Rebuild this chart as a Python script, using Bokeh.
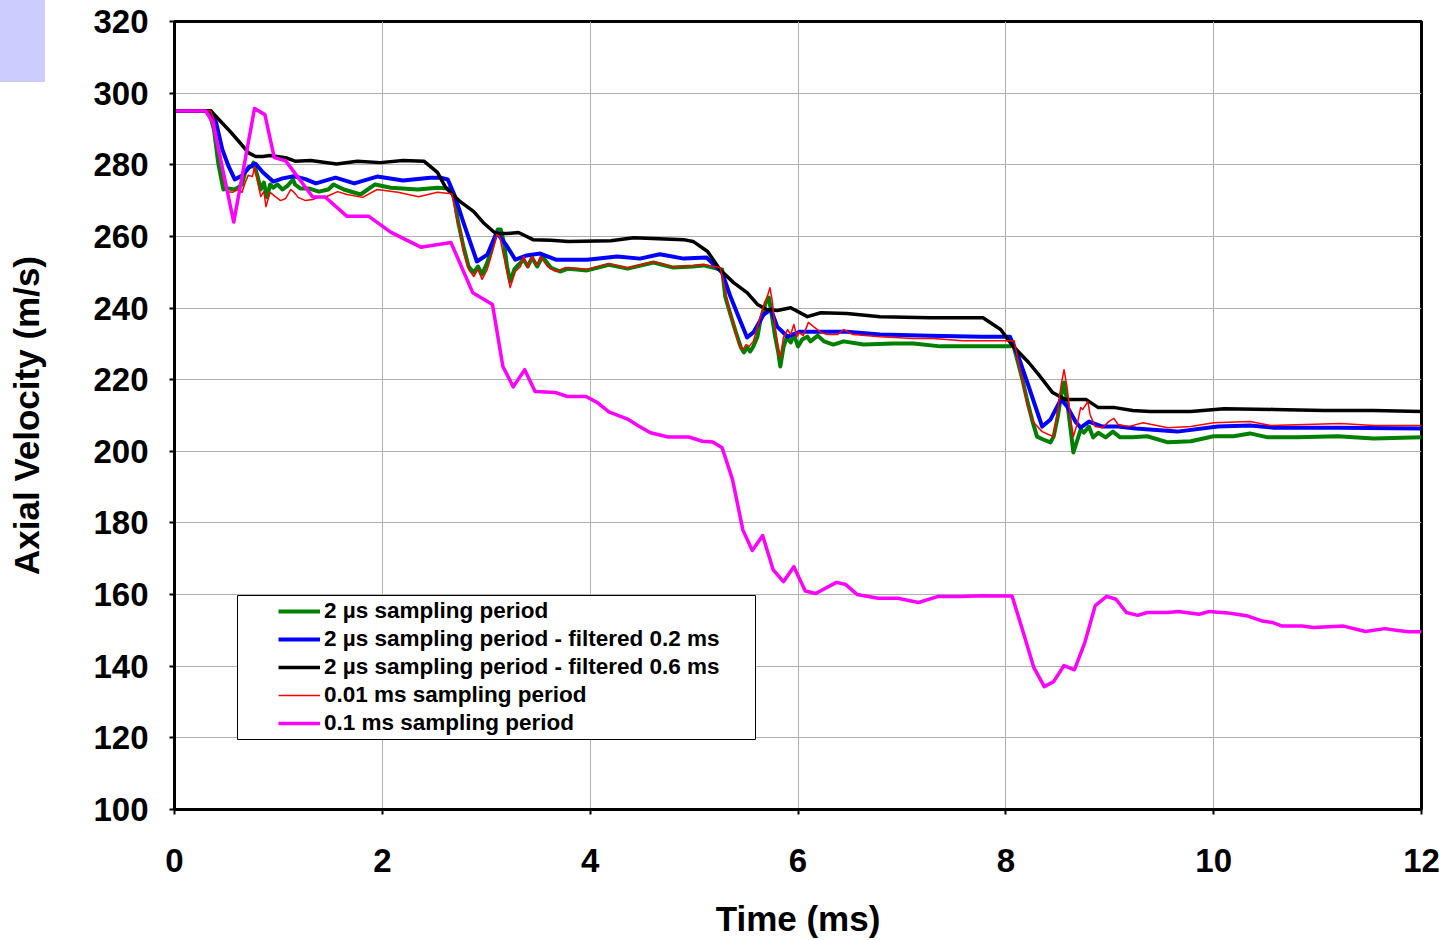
from bokeh.plotting import figure
from bokeh.models import (Range1d, FixedTicker, Legend, LegendItem, BoxAnnotation,
                          ColumnDataSource, InlineStyleSheet)
from bokeh.embed import file_html
from bokeh.resources import INLINE

# ---------------- data ----------------
x_ticks = [0, 2, 4, 6, 8, 10, 12]
y_ticks = [100, 120, 140, 160, 180, 200, 220, 240, 260, 280, 300, 320]

series_labels = [
    "2 \u00b5s sampling period",
    "2 \u00b5s sampling period - filtered 0.2 ms",
    "2 \u00b5s sampling period - filtered 0.6 ms",
    "0.01 ms sampling period",
    "0.1 ms sampling period",
]

# 2 us sampling period (green)
green_pts = [
    (0, 295), (0.33, 295), (0.38, 289.8), (0.42, 280.6), (0.47, 273.1), (0.52, 273.4),
    (0.57, 273.1), (0.61, 273.6), (0.65, 274.5), (0.68, 277.9), (0.71, 279.3), (0.75, 279.6),
    (0.76, 280.6), (0.80, 276.7), (0.83, 273.1), (0.86, 275.0), (0.89, 270.9), (0.92, 274.5),
    (0.95, 273.6), (0.99, 274.5), (1.04, 273.1), (1.09, 274.2), (1.14, 275.9), (1.16, 274.5),
    (1.21, 273.4), (1.29, 273.4), (1.39, 272.5), (1.48, 273.1), (1.53, 274.5), (1.63, 273.1),
    (1.79, 271.7), (1.93, 274.5), (2.08, 273.6), (2.34, 273.1), (2.53, 273.6), (2.64, 273.4),
    (2.67, 272.5), (2.70, 269.5), (2.73, 263.9), (2.78, 257.2), (2.83, 251.6), (2.88, 249.9),
    (2.92, 251.6), (2.96, 249.4), (3.01, 252.7), (3.06, 257.2), (3.11, 261.9), (3.14, 261.9),
    (3.17, 258.3), (3.20, 251.6), (3.23, 247.4), (3.27, 250.8), (3.31, 252.1), (3.36, 253.5),
    (3.40, 251.6), (3.44, 254.1), (3.49, 251.6), (3.54, 254.4), (3.62, 251.3), (3.71, 250.2),
    (3.79, 251.0), (3.97, 250.5), (4.18, 252.1), (4.36, 251.0), (4.61, 252.7), (4.80, 251.3),
    (4.99, 251.6), (5.09, 251.9), (5.22, 251.0), (5.27, 250.8), (5.30, 243.2), (5.35, 238.2),
    (5.40, 233.4), (5.45, 229.0), (5.48, 227.6), (5.51, 229.0), (5.54, 227.9), (5.57, 229.3),
    (5.61, 232.0), (5.64, 236.8), (5.69, 241.5), (5.72, 242.9), (5.75, 237.6), (5.78, 232.0),
    (5.81, 227.6), (5.83, 223.7), (5.86, 229.0), (5.89, 231.8), (5.93, 230.4), (5.96, 232.6),
    (6.00, 229.3), (6.04, 231.2), (6.09, 232.0), (6.12, 230.7), (6.19, 232.3), (6.25, 230.7),
    (6.34, 229.8), (6.44, 230.7), (6.63, 229.8), (6.92, 230.1), (7.11, 230.1), (7.37, 229.3),
    (7.76, 229.3), (8.04, 229.3), (8.07, 229.8), (8.11, 225.6), (8.16, 220.0), (8.21, 213.6),
    (8.26, 208.0), (8.30, 204.1), (8.36, 203.3), (8.43, 202.5), (8.46, 204.1), (8.50, 209.7),
    (8.53, 215.3), (8.56, 219.2), (8.59, 213.9), (8.62, 206.9), (8.65, 199.7), (8.69, 203.3),
    (8.72, 206.1), (8.75, 205.2), (8.80, 206.9), (8.84, 203.9), (8.89, 205.2), (8.96, 203.9),
    (9.03, 205.5), (9.10, 203.9), (9.22, 203.9), (9.36, 204.2), (9.56, 202.5), (9.78, 202.8),
    (10.00, 204.2), (10.19, 204.2), (10.35, 205.0), (10.52, 203.9), (10.81, 203.9),
    (11.19, 204.2), (11.54, 203.6), (12.0, 203.9),
]

# 2 us sampling period - filtered 0.2 ms (blue)
blue_pts = [
    (0, 295), (0.35, 295), (0.40, 291.8), (0.46, 284.3), (0.52, 279.6), (0.58, 275.9),
    (0.65, 277.0), (0.73, 279.6), (0.78, 280.3), (0.85, 277.9), (0.95, 275.3), (1.04, 276.2),
    (1.15, 276.8), (1.26, 276.0), (1.36, 274.8), (1.55, 276.4), (1.73, 274.8), (1.95, 276.7),
    (2.20, 275.6), (2.46, 276.4), (2.56, 276.4), (2.63, 275.9), (2.70, 271.1), (2.78, 263.9),
    (2.91, 253.0), (3.01, 254.9), (3.10, 261.1), (3.19, 257.7), (3.28, 253.5), (3.39, 254.7),
    (3.52, 255.2), (3.67, 253.5), (3.97, 253.5), (4.26, 254.4), (4.48, 253.8), (4.67, 255.0),
    (4.90, 253.8), (5.12, 254.1), (5.22, 251.3), (5.27, 249.9), (5.35, 243.2), (5.43, 237.4),
    (5.51, 231.8), (5.57, 233.2), (5.67, 238.2), (5.74, 239.6), (5.80, 234.8), (5.90, 232.0),
    (6.02, 233.4), (6.22, 233.4), (6.47, 233.4), (6.79, 232.6), (7.27, 232.3), (7.76, 232.0),
    (8.04, 232.0), (8.12, 226.5), (8.22, 218.1), (8.35, 206.9), (8.43, 208.9), (8.53, 214.5),
    (8.59, 212.5), (8.67, 208.3), (8.72, 206.6), (8.80, 208.3), (8.93, 206.9), (9.08, 206.9),
    (9.25, 206.4), (9.65, 205.5), (10.04, 206.9), (10.35, 207.2), (10.58, 206.6),
    (11.22, 206.6), (12.0, 206.4),
]

# 2 us sampling period - filtered 0.6 ms (black)
black_pts = [
    (0, 295), (0.35, 295), (0.52, 289.8), (0.62, 286.5), (0.71, 283.4), (0.78, 282.3),
    (0.85, 282.3), (0.92, 282.6), (1.07, 282.0), (1.16, 281.0), (1.31, 281.2), (1.56, 280.2),
    (1.76, 281.0), (1.98, 280.6), (2.20, 281.2), (2.40, 281.0), (2.53, 277.9), (2.61, 273.6),
    (2.75, 269.7), (2.88, 266.9), (2.97, 263.9), (3.09, 260.8), (3.20, 260.8), (3.31, 261.1),
    (3.45, 259.1), (3.62, 258.9), (3.79, 258.6), (4.20, 258.8), (4.42, 259.6), (4.90, 259.1),
    (4.99, 258.6), (5.13, 255.8), (5.25, 250.7), (5.38, 247.1), (5.51, 244.3), (5.61, 241.0),
    (5.70, 239.6), (5.80, 239.3), (5.93, 240.1), (6.09, 237.6), (6.22, 238.7), (6.47, 238.5),
    (6.79, 237.6), (7.27, 237.3), (7.78, 237.3), (7.95, 234.0), (8.07, 229.3), (8.22, 224.8),
    (8.33, 220.9), (8.45, 216.4), (8.57, 214.5), (8.77, 214.5), (8.89, 212.2), (9.05, 212.2),
    (9.22, 211.4), (9.39, 211.1), (9.78, 211.1), (10.10, 211.9), (10.58, 211.7),
    (11.06, 211.4), (11.54, 211.4), (12.0, 211.1),
]

# 0.01 ms sampling period (red)
red_pts = [
    (0, 295), (0.35, 295), (0.38, 292.6), (0.41, 287.0), (0.44, 283.4), (0.47, 275.9),
    (0.51, 272.5), (0.56, 272.3), (0.61, 273.1), (0.65, 272.3), (0.68, 275.0), (0.71, 277.1),
    (0.75, 276.7), (0.77, 279.5), (0.80, 275.3), (0.83, 271.1), (0.86, 272.5), (0.88, 268.3),
    (0.92, 272.3), (0.97, 271.1), (1.02, 270.0), (1.07, 270.6), (1.12, 273.1), (1.15, 272.3),
    (1.19, 270.9), (1.26, 270.0), (1.33, 270.3), (1.39, 271.0), (1.47, 271.2), (1.57, 272.5),
    (1.66, 271.7), (1.81, 270.9), (1.95, 273.1), (2.15, 272.3), (2.35, 271.1), (2.53, 272.3),
    (2.67, 271.9), (2.71, 265.6), (2.75, 261.9), (2.78, 255.8), (2.83, 250.8), (2.88, 248.8),
    (2.92, 250.8), (2.96, 248.0), (3.01, 250.8), (3.06, 255.8), (3.10, 260.5), (3.13, 260.0),
    (3.16, 255.5), (3.20, 250.2), (3.23, 245.7), (3.28, 250.2), (3.33, 251.6), (3.36, 254.4),
    (3.40, 251.3), (3.44, 254.4), (3.49, 251.9), (3.52, 254.4), (3.59, 251.6), (3.67, 250.2),
    (3.76, 251.3), (3.97, 250.8), (4.18, 252.4), (4.36, 251.2), (4.61, 252.9), (4.80, 251.5),
    (4.99, 251.8), (5.09, 252.1), (5.25, 251.3), (5.28, 248.0), (5.33, 240.4), (5.38, 235.4),
    (5.43, 229.8), (5.47, 228.4), (5.50, 229.8), (5.53, 229.3), (5.57, 230.7), (5.61, 234.8),
    (5.66, 239.6), (5.71, 243.8), (5.73, 245.7), (5.75, 242.4), (5.78, 234.8), (5.81, 228.4),
    (5.83, 226.2), (5.86, 231.8), (5.90, 234.0), (5.93, 232.6), (5.96, 235.4), (5.99, 232.0),
    (6.01, 233.2), (6.05, 232.3), (6.10, 236.0), (6.15, 234.8), (6.22, 233.2), (6.28, 232.6),
    (6.38, 232.6), (6.44, 234.0), (6.53, 232.6), (6.79, 232.0), (7.11, 231.5), (7.30, 231.5),
    (7.59, 230.9), (8.08, 230.9), (8.11, 226.5), (8.16, 220.0), (8.21, 212.5), (8.27, 208.0),
    (8.35, 205.5), (8.41, 204.7), (8.46, 204.1), (8.50, 211.7), (8.53, 218.1), (8.56, 222.8),
    (8.59, 217.8), (8.62, 209.7), (8.65, 204.1), (8.69, 208.0), (8.72, 212.2), (8.74, 211.7),
    (8.79, 213.9), (8.81, 210.3), (8.86, 206.9), (8.93, 206.6), (8.99, 208.3), (9.04, 209.2),
    (9.08, 207.5), (9.18, 206.9), (9.32, 208.0), (9.56, 206.6), (9.78, 206.9), (10.00, 208.0),
    (10.35, 208.3), (10.55, 207.2), (11.22, 207.8), (11.54, 207.2), (12.0, 207.2),
]

# 0.1 ms sampling period (magenta)
pink_pts = [
    (0, 295), (0.30, 295), (0.37, 291.8), (0.57, 264.0), (0.77, 295.7), (0.87, 294.0),
    (0.96, 282.0), (1.07, 281.1), (1.33, 271.0), (1.45, 271.0), (1.66, 265.6), (1.87, 265.6),
    (2.08, 261.2), (2.37, 257.0), (2.66, 258.3), (2.87, 244.3), (3.06, 241.0), (3.16, 223.7),
    (3.26, 218.0), (3.37, 222.8), (3.47, 216.7), (3.67, 216.4), (3.78, 215.3), (3.96, 215.3),
    (4.07, 213.6), (4.18, 211.0), (4.36, 209.0), (4.47, 207.0), (4.58, 205.2), (4.75, 204.0),
    (4.95, 204.0), (5.08, 202.8), (5.18, 202.6), (5.27, 201.0), (5.37, 192.1), (5.47, 178.0),
    (5.56, 172.3), (5.66, 176.5), (5.76, 167.0), (5.86, 163.6), (5.96, 167.8), (6.07, 161.0),
    (6.17, 160.3), (6.37, 163.4), (6.46, 162.8), (6.57, 160.0), (6.77, 159.0), (6.96, 159.0),
    (7.16, 157.8), (7.35, 159.5), (7.56, 159.5), (7.78, 159.7), (8.06, 159.6), (8.16, 150.2),
    (8.27, 139.6), (8.37, 134.3), (8.46, 135.7), (8.56, 140.2), (8.66, 139.0), (8.76, 146.6),
    (8.86, 156.9), (8.97, 159.5), (9.06, 158.7), (9.16, 155.0), (9.27, 154.2), (9.36, 155.0),
    (9.56, 155.0), (9.66, 155.3), (9.86, 154.5), (9.96, 155.3), (10.16, 154.8), (10.33, 154.0),
    (10.47, 152.6), (10.57, 152.2), (10.66, 151.2), (10.85, 151.2), (10.96, 150.8),
    (11.25, 151.2), (11.46, 149.7), (11.65, 150.5), (11.77, 150.0), (11.88, 149.6), (12.0, 149.6),
]

# ---------------- styling ----------------
FONT = "Liberation Sans"
W, H = 1444, 940
FRAME_L, FRAME_R, FRAME_T, FRAME_B = 174, 1421, 21, 810

# small lavender patch at the page's top-left corner (pure page decoration)
corner_css = InlineStyleSheet(css="""
:host::after {
  content: "";
  position: absolute;
  left: 0px; top: 0px;
  width: 45px; height: 82px;
  background: #ccccff;
  z-index: 5;
  pointer-events: none;
}
""")

p = figure(width=W, height=H, output_backend="svg", toolbar_location=None,
           x_range=Range1d(0, 12), y_range=Range1d(100, 320),
           min_border_left=FRAME_L, min_border_right=W - FRAME_R,
           min_border_top=FRAME_T, min_border_bottom=H - FRAME_B,
           stylesheets=[corner_css])
p.background_fill_color = "white"
p.border_fill_color = "white"
p.outline_line_color = "black"
p.outline_line_width = 3

for ax in (p.xaxis[0], p.yaxis[0]):
    ax.major_label_text_font = FONT
    ax.major_label_text_font_style = "bold"
    ax.major_label_text_font_size = "33px"
    ax.major_label_text_color = "black"
    ax.axis_label_text_font = FONT
    ax.axis_label_text_font_style = "bold"
    ax.axis_label_text_font_size = "35px"
    ax.axis_label_text_color = "black"
    ax.axis_line_color = "black"
    ax.axis_line_width = 3
    ax.major_tick_in = 0
    ax.major_tick_out = 5
    ax.major_tick_line_width = 2
    ax.minor_tick_line_color = None

p.xaxis.ticker = FixedTicker(ticks=x_ticks)
p.yaxis.ticker = FixedTicker(ticks=y_ticks)
p.xaxis.axis_label = "Time (ms)"
p.yaxis.axis_label = "Axial Velocity (m/s)"
p.xaxis.major_label_standoff = 34
p.yaxis.major_label_standoff = 21
p.xaxis.axis_label_standoff = 24
p.yaxis.axis_label_standoff = 44

p.xgrid.ticker = FixedTicker(ticks=x_ticks)
p.ygrid.ticker = FixedTicker(ticks=y_ticks)
p.grid.grid_line_color = "#b0b0b0"
p.grid.grid_line_width = 1

colors = ["#008000", "#0000ff", "#000000", "#ff0000", "#ff00ff"]
widths = [4, 4, 3.5, 1.5, 3.5]
all_pts = [green_pts, blue_pts, black_pts, red_pts, pink_pts]

renderers = []
for pts, c, w in zip(all_pts, colors, widths):
    src = ColumnDataSource(dict(t=[a for a, _ in pts], v=[b for _, b in pts]))
    r = p.line("t", "v", source=src, line_color=c, line_width=w, line_join="round")
    renderers.append(r)

# legend frame
legend_box = BoxAnnotation(left=237 - FRAME_L, right=755 - FRAME_L,
                           bottom=FRAME_B - 740, top=FRAME_B - 596,
                           left_units="screen", right_units="screen",
                           top_units="screen", bottom_units="screen",
                           fill_color="white", fill_alpha=1,
                           line_color="black", line_width=1, line_alpha=1)
p.add_layout(legend_box)

legend = Legend(
    items=[LegendItem(label=l, renderers=[r]) for l, r in zip(series_labels, renderers)],
    location=(276 - FRAME_L, FRAME_B - 740),
    padding=2, spacing=0, margin=0,
    glyph_width=42, glyph_height=28, label_height=28, label_standoff=4,
    label_text_font=FONT, label_text_font_style="bold", label_text_font_size="22.5px",
    label_text_color="black",
    border_line_alpha=0, background_fill_alpha=0,
)
p.add_layout(legend)

open("out.html", "w").write(file_html(p, INLINE))
